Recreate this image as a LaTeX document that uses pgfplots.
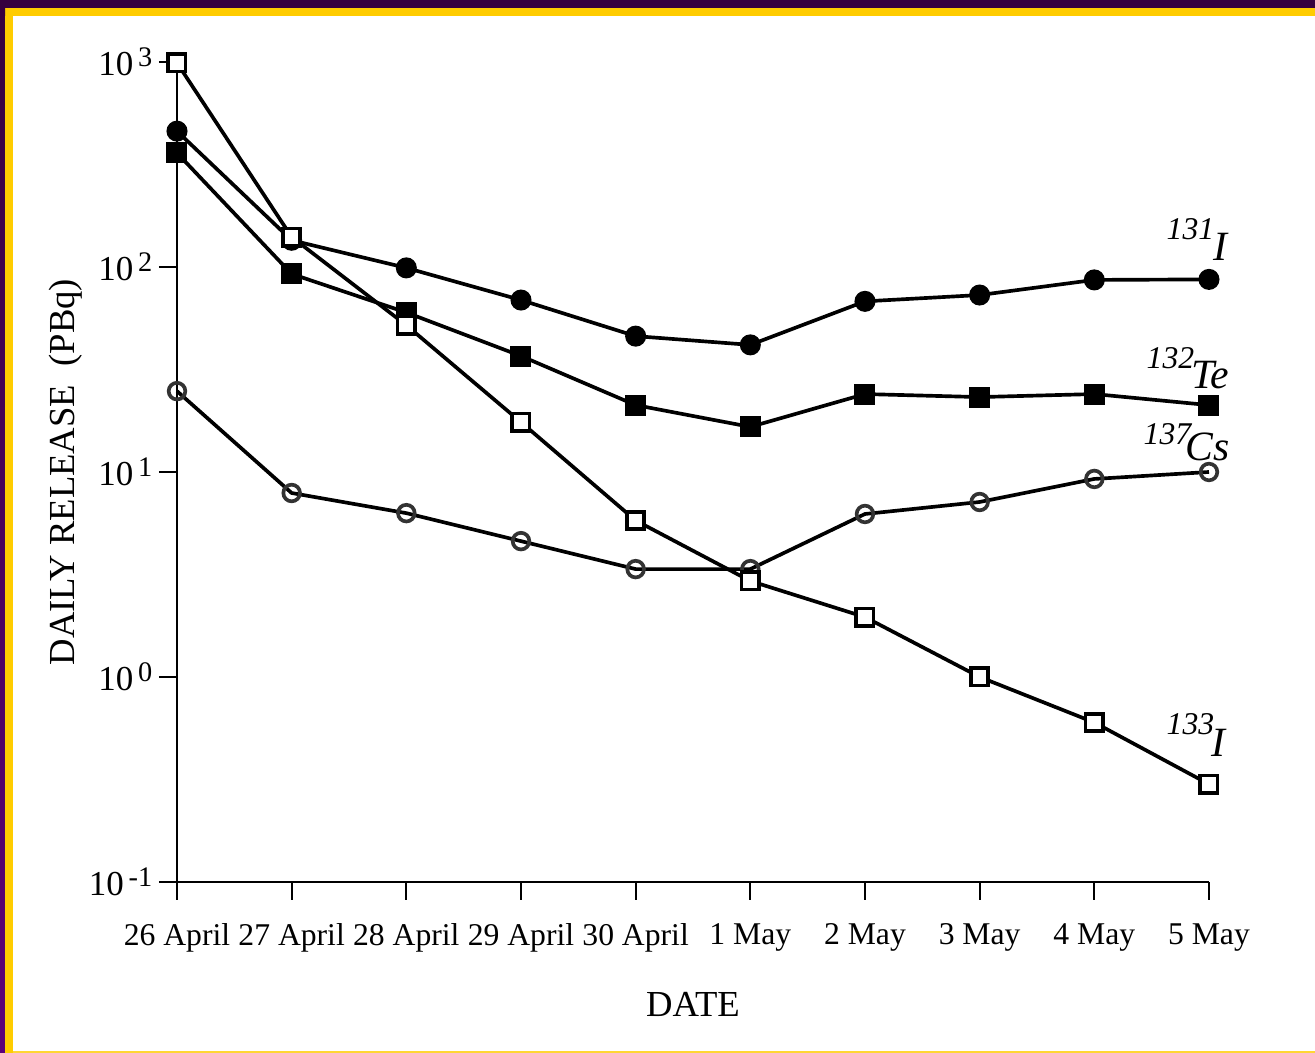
\documentclass[border=0pt]{standalone}
\usepackage{pgfplots}
\pgfplotsset{compat=1.18}
\usepackage{fontspec}
\setmainfont{Liberation Serif}
\definecolor{purp}{HTML}{36003F}
\definecolor{purp2}{HTML}{5C007A}
\definecolor{gold}{HTML}{FFCC00}
\newcommand{\pw}[1]{10\raisebox{0.55ex}{\fontsize{8.5}{8.5}\selectfont\,#1}}

\pgfplotstableread{
x I131 Te132 Cs137 I133
0 460 360 24.8 990
1 135 92.5 7.9 140
2 99 60 6.3 52
3 69 36.8 4.6 17.5
4 46 21.2 3.36 5.8
5 41.7 16.6 3.36 2.94
6 68 24 6.24 1.96
7 73 23.2 7.14 1.0
8 86.5 24 9.25 0.60
9 87 21.2 10 0.30
}\datatable

\begin{document}
\begin{tikzpicture}
\useasboundingbox (0,0) rectangle (394.5pt,315.9pt);
\fill[white] (0,0) rectangle (394.5pt,315.9pt);
\fill[purp] (0,313.5pt) rectangle (394.5pt,315.9pt);
\fill[gold] (1.5pt,311.1pt) rectangle (394.5pt,313.5pt);
\shade[bottom color=purp2, top color=purp] (0,0) rectangle (1.5pt,313.5pt);
\fill[gold] (1.5pt,0) rectangle (3.9pt,311.1pt);
\fill[gold!80] (3.9pt,0) rectangle (394.5pt,0.5pt);

\begin{axis}[
  at={(53.1pt,51.3pt)}, anchor=south west,
  scale only axis, width=309.6pt, height=246pt,
  ymode=log, ymin=0.1, ymax=1000, xmin=0, xmax=9,
  axis x line=bottom, axis y line=left,
  axis line style={-, line width=0.6pt},
  xtick={0,...,9},
  xticklabels={26 April,27 April,28 April,29 April,30 April,1 May,2 May,3 May,4 May,5 May},
  ytick={0.1,1,10,100,1000},
  yticklabels={\pw{-1},\pw{0},\pw{1},\pw{2},\pw{3}},
  yminorticks=false,
  tick align=outside, major tick length=5.4pt,
  tick style={line width=0.6pt, black},
  xticklabel style={font=\fontsize{9.5}{10}\selectfont, yshift=-3.6pt},
  yticklabel style={font=\fontsize{10.5}{10}\selectfont, xshift=1.5pt},
  xlabel={DATE}, ylabel={DAILY RELEASE\ \ (PBq)},
  label style={font=\fontsize{11}{12}\selectfont},
  xlabel style={yshift=-5pt},
  ylabel style={yshift=-5pt},
  clip=false,
  every axis plot/.append style={line width=1.1pt, black, mark options={line width=0.6pt, solid}},
]
\addplot[mark=*, mark size=2.6pt, mark options={fill=black}] table[x=x,y=I131] {\datatable};
\addplot[mark=square*, mark size=2.6pt, mark options={fill=black}] table[x=x,y=Te132] {\datatable};
\addplot[mark=o, mark size=2.5pt, mark options={fill=white, draw=black!80}] table[x=x,y=Cs137] {\datatable};
\addplot[mark=square*, mark size=2.6pt, mark options={fill=white}] table[x=x,y=I133] {\datatable};
\end{axis}

\begin{scope}[x=0.3pt,y=-0.3pt,yshift=315.9pt, every node/.style={inner sep=0pt}]
\node[anchor=base west] at (1166,240) {\fontsize{9.5}{10}\selectfont\itshape 131};
\node[anchor=base east] at (1228,261) {\fontsize{12.5}{12}\selectfont\itshape I};
\node[anchor=base west] at (1146,369) {\fontsize{9.5}{10}\selectfont\itshape 132};
\node[anchor=base east] at (1230,389) {\fontsize{12.5}{12}\selectfont\itshape Te};
\node[anchor=base west] at (1143,445) {\fontsize{9.5}{10}\selectfont\itshape 137};
\node[anchor=base east] at (1230,461) {\fontsize{12.5}{12}\selectfont\itshape Cs};
\node[anchor=base west] at (1166,735) {\fontsize{9.5}{10}\selectfont\itshape 133};
\node[anchor=base east] at (1226,757) {\fontsize{12.5}{12}\selectfont\itshape I};
\end{scope}
\end{tikzpicture}
\end{document}
